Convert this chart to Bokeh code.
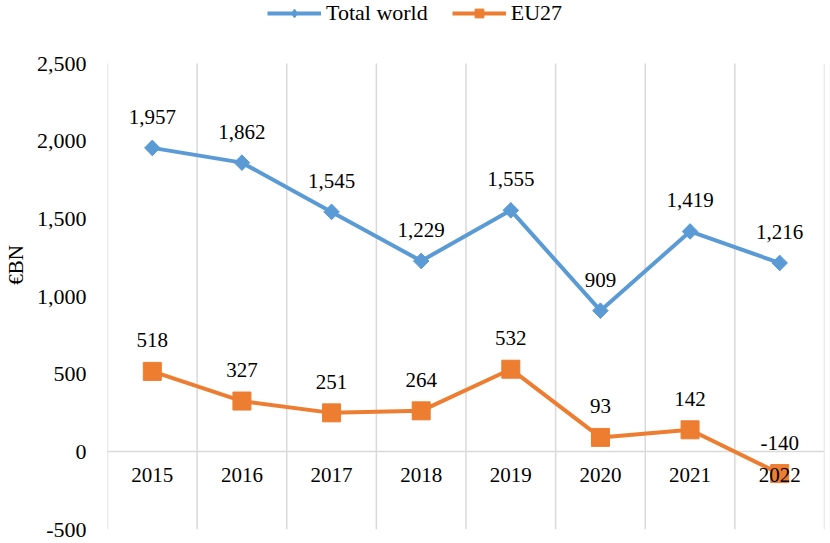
import math
from bokeh.plotting import figure
from bokeh.models import (Range1d, FixedTicker, NumeralTickFormatter, Legend, LegendItem,
                          ColumnDataSource)
from bokeh.core.properties import value
from bokeh.embed import file_html
from bokeh.resources import INLINE

years = ["2015", "2016", "2017", "2018", "2019", "2020", "2021", "2022"]
total_world = [1957, 1862, 1545, 1229, 1555, 909, 1419, 1216]
eu27 = [518, 327, 251, 264, 532, 93, 142, -140]
y_ticks = [-500, 0, 500, 1000, 1500, 2000, 2500]

BLUE = "#5B9BD5"
ORANGE = "#ED7D31"
GRID = "#D9D9D9"
FONT = "Liberation Serif"

x = list(range(len(years)))
y_min, y_max = y_ticks[0], y_ticks[-1]

# frame runs from the canvas top; the space above 2,500 holds the legend
p = figure(width=826, height=541, output_backend="svg", toolbar_location=None,
           x_range=Range1d(-0.5, len(years) - 0.5), y_range=Range1d(y_min, 2906),
           min_border_left=104, min_border_right=2, min_border_top=0, min_border_bottom=12)
p.outline_line_color = None
p.background_fill_color = "white"
p.border_fill_color = "white"

# vertical category separators between -500 and 2,500
bounds = [i - 0.5 for i in range(len(years) + 1)]
p.segment(x0=bounds, y0=[y_min] * len(bounds), x1=bounds, y1=[y_max] * len(bounds),
          line_color=GRID, line_width=1.5)
p.xgrid.visible = False
p.ygrid.ticker = FixedTicker(ticks=[0])
p.ygrid.grid_line_color = GRID
p.ygrid.grid_line_width = 1.5

# x axis at zero
p.xaxis.fixed_location = 0
p.xaxis.ticker = FixedTicker(ticks=x)
p.xaxis.major_label_overrides = {i: y for i, y in enumerate(years)}
p.xaxis.axis_line_color = None
p.xaxis.major_tick_line_color = None
p.xaxis.minor_tick_line_color = None
p.xaxis.major_label_text_font = FONT
p.xaxis.major_label_text_font_size = "21px"
p.xaxis.major_label_text_color = "#000000"
p.xaxis.major_label_standoff = 10

# y axis
p.yaxis.ticker = FixedTicker(ticks=y_ticks)
p.yaxis.formatter = NumeralTickFormatter(format="0,0")
p.yaxis.axis_line_color = None
p.yaxis.major_tick_line_color = None
p.yaxis.minor_tick_line_color = None
p.yaxis.major_label_text_font = FONT
p.yaxis.major_label_text_font_size = "22px"
p.yaxis.major_label_text_color = "#000000"
p.yaxis.major_label_standoff = 15
p.yaxis.axis_label = "€BN"
p.yaxis.axis_label_text_font = FONT
p.yaxis.axis_label_text_font_size = "21px"
p.yaxis.axis_label_text_font_style = "normal"
p.yaxis.axis_label_text_color = "#000000"
p.yaxis.axis_label_standoff = 6

src_w = ColumnDataSource(dict(x=x, y=total_world, lab=[f"{v:,}" for v in total_world]))
src_e = ColumnDataSource(dict(x=x, y=eu27, lab=[f"{v:,}" for v in eu27]))

lw = p.line("x", "y", source=src_w, line_color=BLUE, line_width=4)
# diamond (used for the legend) sits under a rotated square of the same colour
mw = p.scatter("x", "y", source=src_w, marker="diamond", size=15,
               fill_color=BLUE, line_color=BLUE)
p.scatter("x", "y", source=src_w, marker="square", angle=math.pi / 4, size=11,
          fill_color=BLUE, line_color=BLUE)
le = p.line("x", "y", source=src_e, line_color=ORANGE, line_width=4)
me = p.scatter("x", "y", source=src_e, marker="square", size=18, fill_color=ORANGE,
               line_color=ORANGE)

for src in (src_w, src_e):
    p.text("x", "y", text="lab", source=src, text_font=value(FONT), text_font_size="21px",
           text_color="#000000", text_align="center", text_baseline="middle", y_offset=-31)

legend = Legend(items=[LegendItem(label="Total world", renderers=[lw, mw]),
                       LegendItem(label="EU27", renderers=[le, me])],
                orientation="horizontal", location=(160, 503),
                label_text_font=FONT, label_text_font_size="22px", label_text_color="#000000",
                glyph_width=54, glyph_height=22, label_height=22, spacing=24, label_standoff=5,
                border_line_color=None, background_fill_alpha=0, padding=0, margin=0)
p.add_layout(legend)

html = file_html(p, INLINE)
open("out.html", "w").write(html)
